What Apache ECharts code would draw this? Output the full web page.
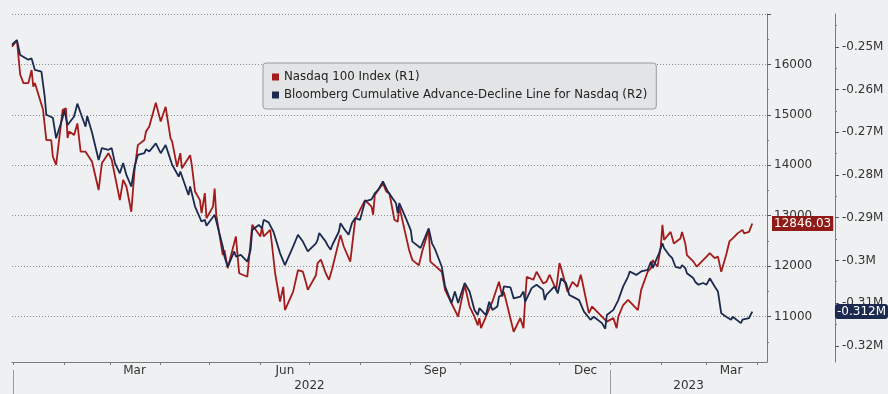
<!DOCTYPE html>
<html>
<head>
<meta charset="utf-8">
<script src="https://cdn.jsdelivr.net/npm/echarts@6/dist/echarts.min.js"></script>
<style>
  html, body { margin: 0; padding: 0; background: #eff0f1; }
  #main { width: 888px; height: 394px; }
</style>
</head>
<body>
<div id="main"></div>
<script>
// ---------- 数据 ----------
// Nasdaq 100 Index (R1)
var ndxDates = ['2021-12-31','2022-01-03','2022-01-05','2022-01-07','2022-01-10','2022-01-12','2022-01-13','2022-01-14','2022-01-19','2022-01-21',
  '2022-01-24','2022-01-25','2022-01-27','2022-01-31','2022-02-02','2022-02-03','2022-02-04','2022-02-07','2022-02-09','2022-02-11',
  '2022-02-14','2022-02-18','2022-02-22','2022-02-24','2022-02-28','2022-03-02','2022-03-07','2022-03-09','2022-03-11','2022-03-14',
  '2022-03-16','2022-03-18','2022-03-22','2022-03-23','2022-03-25','2022-03-29','2022-04-01','2022-04-04','2022-04-07','2022-04-08',
  '2022-04-11','2022-04-13','2022-04-14','2022-04-19','2022-04-20','2022-04-22','2022-04-25','2022-04-26','2022-04-28','2022-04-29',
  '2022-05-03','2022-05-04','2022-05-05','2022-05-09','2022-05-10','2022-05-12','2022-05-17','2022-05-19','2022-05-20','2022-05-24',
  '2022-05-27','2022-06-01','2022-06-02','2022-06-03','2022-06-07','2022-06-08','2022-06-10','2022-06-13','2022-06-15','2022-06-16',
  '2022-06-21','2022-06-24','2022-06-27','2022-06-29','2022-06-30','2022-07-05','2022-07-06','2022-07-08','2022-07-11','2022-07-13',
  '2022-07-15','2022-07-20','2022-07-22','2022-07-26','2022-07-29','2022-08-04','2022-08-08','2022-08-09','2022-08-10','2022-08-15',
  '2022-08-17','2022-08-19','2022-08-22','2022-08-24','2022-08-25','2022-08-31','2022-09-02','2022-09-06','2022-09-08','2022-09-12',
  '2022-09-13','2022-09-20','2022-09-22','2022-09-26','2022-09-30','2022-10-04','2022-10-07','2022-10-10','2022-10-12','2022-10-13',
  '2022-10-14','2022-10-21','2022-10-25','2022-10-27','2022-10-28','2022-11-03','2022-11-07','2022-11-09','2022-11-10','2022-11-11',
  '2022-11-15','2022-11-17','2022-11-21','2022-11-23','2022-11-25','2022-11-29','2022-12-01','2022-12-02','2022-12-06','2022-12-09',
  '2022-12-12','2022-12-14','2022-12-15','2022-12-19','2022-12-21','2022-12-27','2022-12-30','2023-01-03','2023-01-05','2023-01-06',
  '2023-01-09','2023-01-12','2023-01-13','2023-01-18','2023-01-20','2023-01-24','2023-01-26','2023-01-27','2023-01-30','2023-02-01',
  '2023-02-02','2023-02-03','2023-02-07','2023-02-09','2023-02-13','2023-02-14','2023-02-16','2023-02-17','2023-02-21','2023-02-23',
  '2023-02-24','2023-03-01','2023-03-03','2023-03-06','2023-03-08','2023-03-10','2023-03-13','2023-03-15','2023-03-17','2023-03-20',
  '2023-03-21','2023-03-23','2023-03-24','2023-03-27','2023-03-29'];
var ndxValues = [16350,16480,15800,15630,15630,15890,15560,15630,15100,14500,
  14500,14170,14010,15100,15130,14540,14670,14600,14830,14270,
  14270,14070,13510,14040,14240,14110,13310,13710,13580,13080,
  13910,14400,14500,14670,14770,15240,14870,15160,14540,14470,
  13970,14240,13940,14200,14010,13480,13310,13050,13450,12950,
  13180,13540,13010,12220,12320,11960,12590,11860,11860,11790,
  12820,12590,12780,12590,12720,12450,11860,11300,11590,11130,
  11490,11920,11890,11660,11530,11820,12060,12130,11860,11730,
  11960,12620,12390,12090,12920,13310,13180,13020,13410,13640,
  13480,13440,12920,12880,13180,12320,12120,12020,12290,12720,
  12090,11890,11530,11260,11000,11630,11200,11000,10830,10970,
  10770,11300,11690,11400,11490,10700,10970,10770,11330,11790,
  11730,11890,11660,11690,11830,11530,12060,11960,11490,11690,
  11590,11830,11690,11070,11200,11000,10900,10970,10770,11000,
  11230,11330,11360,11130,11530,11890,11960,12120,11990,12390,
  12820,12520,12680,12450,12550,12680,12450,12220,12090,11990,
  11960,12190,12260,12160,12190,11890,12220,12490,12550,12650,
  12680,12720,12650,12680,12846.03];

// Bloomberg Cumulative Advance-Decline Line for Nasdaq (R2)
var adDates = ['2021-12-31','2022-01-03','2022-01-05','2022-01-10','2022-01-12','2022-01-14','2022-01-18','2022-01-20','2022-01-21','2022-01-25',
  '2022-01-27','2022-01-31','2022-02-01','2022-02-03','2022-02-07','2022-02-09','2022-02-11','2022-02-14','2022-02-15','2022-02-16',
  '2022-02-18','2022-02-22','2022-02-24','2022-02-28','2022-03-02','2022-03-04','2022-03-07','2022-03-09','2022-03-11','2022-03-14',
  '2022-03-16','2022-03-18','2022-03-22','2022-03-23','2022-03-25','2022-03-29','2022-04-01','2022-04-04','2022-04-06','2022-04-08',
  '2022-04-12','2022-04-13','2022-04-18','2022-04-19','2022-04-22','2022-04-26','2022-04-28','2022-04-29','2022-05-04','2022-05-09',
  '2022-05-10','2022-05-12','2022-05-13','2022-05-16','2022-05-17','2022-05-18','2022-05-20','2022-05-24','2022-05-26','2022-05-27',
  '2022-05-31','2022-06-02','2022-06-03','2022-06-06','2022-06-09','2022-06-13','2022-06-14','2022-06-16','2022-06-21','2022-06-22',
  '2022-06-24','2022-06-27','2022-06-30','2022-07-05','2022-07-06','2022-07-07','2022-07-11','2022-07-12','2022-07-14','2022-07-15',
  '2022-07-19','2022-07-20','2022-07-22','2022-07-25','2022-07-27','2022-07-29','2022-08-01','2022-08-04','2022-08-08','2022-08-10',
  '2022-08-12','2022-08-15','2022-08-16','2022-08-18','2022-08-19','2022-08-23','2022-08-24','2022-08-25','2022-08-29','2022-09-01',
  '2022-09-02','2022-09-07','2022-09-12','2022-09-14','2022-09-16','2022-09-20','2022-09-22','2022-09-26','2022-09-28','2022-09-30',
  '2022-10-04','2022-10-07','2022-10-10','2022-10-12','2022-10-13','2022-10-17','2022-10-19','2022-10-21','2022-10-24','2022-10-25',
  '2022-10-27','2022-10-28','2022-11-01','2022-11-03','2022-11-07','2022-11-09','2022-11-10','2022-11-14','2022-11-17','2022-11-21',
  '2022-11-22','2022-11-23','2022-11-28','2022-11-30','2022-12-02','2022-12-05','2022-12-07','2022-12-09','2022-12-13','2022-12-16',
  '2022-12-20','2022-12-22','2022-12-27','2022-12-29','2022-12-30','2023-01-03','2023-01-06','2023-01-09','2023-01-12','2023-01-13',
  '2023-01-17','2023-01-20','2023-01-24','2023-01-26','2023-01-27','2023-01-31','2023-02-02','2023-02-03','2023-02-06','2023-02-08',
  '2023-02-10','2023-02-13','2023-02-14','2023-02-16','2023-02-17','2023-02-21','2023-02-22','2023-02-24','2023-02-27','2023-03-01',
  '2023-03-03','2023-03-06','2023-03-08','2023-03-10','2023-03-13','2023-03-14','2023-03-16','2023-03-17','2023-03-22','2023-03-23',
  '2023-03-27','2023-03-29'];
var adValues = [-249500,-248400,-251900,-253000,-252700,-255400,-255800,-261600,-265900,-266600,
  -271400,-266600,-264800,-268300,-266300,-263300,-265500,-268700,-266200,-266300,
  -270100,-276500,-273700,-274100,-273700,-277200,-279600,-277200,-280000,-282700,
  -278000,-275300,-274900,-274000,-274500,-272600,-274900,-273000,-275300,-277600,
  -280400,-279200,-284700,-282700,-287400,-290900,-290500,-291900,-289300,-296800,
  -299100,-301500,-301500,-297900,-299100,-298700,-298700,-300300,-297500,-292900,
  -291700,-292500,-290500,-291100,-293300,-298300,-298700,-301100,-296800,-296400,
  -294000,-295600,-297900,-296000,-295200,-293600,-295600,-296400,-297500,-296400,
  -293300,-291300,-292500,-294000,-291300,-290100,-290500,-286200,-285700,-284300,
  -283500,-281500,-282300,-283900,-283500,-286600,-288900,-286600,-290100,-292900,
  -295600,-297100,-292500,-296000,-297500,-301500,-306100,-310000,-307300,-310000,
  -305300,-307300,-311600,-312800,-311200,-312800,-309700,-311600,-310800,-308500,
  -308100,-306100,-306300,-308900,-308500,-307300,-309700,-306500,-305700,-306900,
  -309300,-308100,-306100,-307700,-304200,-305300,-308100,-308500,-309300,-312000,
  -313900,-313200,-314700,-316000,-312800,-311600,-309300,-306100,-303800,-302600,
  -303400,-302600,-302200,-300300,-301800,-298300,-296000,-297100,-298700,-299500,
  -301500,-301800,-301100,-301800,-303000,-304200,-305000,-305700,-305300,-305700,
  -304200,-306100,-307300,-312400,-313200,-312800,-313900,-313200,-314700,-313900,
  -313500,-312000];

// 坐标轴刻度
var monthTicks = ['2022-01-01','2022-02-01','2022-03-01','2022-04-01','2022-05-01','2022-06-01','2022-07-01','2022-08-01',
  '2022-09-01','2022-10-01','2022-11-01','2022-12-01','2023-01-01','2023-02-01','2023-03-01','2023-04-01'];
var monthLabelDates = ['2022-03-16','2022-06-16','2022-09-16','2022-12-17','2023-03-16'];
var monthLabelText = ['Mar','Jun','Sep','Dec','Mar'];
var yearBreaks = ['2022-01-01','2023-01-01'];
var yearLabelDates = ['2022-07-01','2023-02-18'];
var yearLabelText = ['2022','2023'];
var r1Ticks = [11000,12000,13000,14000,15000,16000,17000];
var r1Labels = [11000,12000,13000,14000,15000,16000];
var r1Minor = [10500,11500,12500,13500,14500,15500,16500];
var r2Labels = [-250000,-260000,-270000,-280000,-290000,-300000,-310000,-320000];
var r2Minor = [-245000,-255000,-265000,-275000,-285000,-295000,-305000,-315000];
var ndxLast = 12846.03;
var adLast = -312000;

// ---------- 图表 ----------
// 日期 -> 时间戳（x 轴用 value 轴承载时间戳）
function ts(s) { var p = s.split('-'); return Date.UTC(+p[0], +p[1] - 1, +p[2]); }
function pairs(dates, values) {
  var out = [];
  for (var i = 0; i < dates.length; i++) out.push([ts(dates[i]), values[i]]);
  return out;
}
function lookup(dates, texts) {
  var m = {};
  for (var i = 0; i < dates.length; i++) m[ts(dates[i])] = texts[i];
  return function (v) { return m[v] || ''; };
}
function millions(v) { return parseFloat((v / 1e6).toFixed(3)) + 'M'; }

var font = 'DejaVu Sans';
var textColor = '#333';
var axisColor = '#7a7a7a';
var redColor = '#a31b1b';
var navyColor = '#1b2a4e';
var xMin = ts('2021-12-31');
var xMax = ts('2023-04-07');

var chart = echarts.init(document.getElementById('main'), null, { renderer: 'canvas' });

var option = {
  backgroundColor: '#eff0f1',
  animation: false,
  textStyle: { fontFamily: font },
  grid: { left: 12, right: 121, top: 14, bottom: 32 },
  legend: {
    left: 263,
    top: 63,
    orient: 'vertical',
    icon: 'rect',
    itemWidth: 7,
    itemHeight: 7,
    itemGap: 6,
    padding: [8, 9, 8, 9],
    backgroundColor: '#e3e4e5',
    borderColor: '#9a9a9a',
    borderWidth: 1,
    borderRadius: 3,
    textStyle: { fontFamily: font, fontSize: 11.8, color: '#222' },
    data: ['Nasdaq 100 Index (R1)', 'Bloomberg Cumulative Advance-Decline Line for Nasdaq (R2)']
  },
  xAxis: [{
    type: 'value',
    min: xMin,
    max: xMax,
    axisLine: { show: true, lineStyle: { color: axisColor, width: 1 } },
    axisTick: { show: true, length: 3, customValues: monthTicks.map(ts), lineStyle: { color: axisColor } },
    axisLabel: {
      customValues: monthLabelDates.map(ts),
      formatter: lookup(monthLabelDates, monthLabelText),
      margin: 3,
      fontSize: 12,
      color: textColor,
      fontFamily: font
    },
    splitLine: { show: false }
  }, {
    // 年份行
    type: 'value',
    position: 'bottom',
    offset: 8,
    min: xMin,
    max: xMax,
    axisLine: { show: false },
    axisTick: { show: true, length: 24, customValues: yearBreaks.map(ts), lineStyle: { color: '#9a9a9a' } },
    axisLabel: {
      customValues: yearLabelDates.map(ts),
      formatter: lookup(yearLabelDates, yearLabelText),
      margin: 10,
      fontSize: 12,
      color: textColor,
      fontFamily: font
    },
    splitLine: { show: false }
  }],
  yAxis: [{
    // R1
    type: 'value',
    position: 'right',
    min: 10100,
    max: 17000,
    axisLine: { show: true, lineStyle: { color: axisColor, width: 1 } },
    axisTick: { show: true, length: 4, customValues: r1Ticks, lineStyle: { color: '#555' } },
    axisLabel: {
      customValues: r1Labels,
      margin: 7,
      fontSize: 12,
      color: textColor,
      fontFamily: font,
      formatter: function (v) { return String(v); }
    },
    splitLine: { show: true, lineStyle: { color: '#8c8c8c', type: [1, 2], width: 1 } },
    axisPointer: {
      show: true,
      type: 'line',
      value: ndxLast,
      status: 'show',
      snap: false,
      triggerTooltip: false,
      lineStyle: { opacity: 0 },
      label: {
        show: true,
        margin: 5,
        padding: [2, 2, 1, 2],
        backgroundColor: '#8e1b17',
        color: '#fff',
        fontSize: 12,
        fontFamily: font,
        borderRadius: 0,
        formatter: function (p) { return Number(p.value).toFixed(2); }
      }
    }
  }, {
    // R2
    type: 'value',
    position: 'right',
    offset: 68,
    min: -323800,
    max: -242300,
    axisLine: { show: true, lineStyle: { color: axisColor, width: 1 } },
    axisTick: { show: true, length: 4, customValues: r2Labels, lineStyle: { color: '#555' } },
    axisLabel: {
      customValues: r2Labels,
      margin: 7,
      fontSize: 12,
      color: textColor,
      fontFamily: font,
      formatter: millions
    },
    splitLine: { show: false },
    axisPointer: {
      show: true,
      type: 'line',
      value: adLast,
      status: 'show',
      snap: false,
      triggerTooltip: false,
      lineStyle: { opacity: 0 },
      label: {
        show: true,
        margin: 5,
        padding: [2, 2, 1, 2],
        backgroundColor: navyColor,
        color: '#fff',
        fontSize: 12,
        fontFamily: font,
        formatter: function (p) { return millions(p.value); }
      }
    }
  }, {
    // R1 小刻度
    type: 'value',
    position: 'right',
    min: 10100,
    max: 17000,
    axisLine: { show: false },
    axisTick: { show: true, length: 2, customValues: r1Minor, lineStyle: { color: '#777' } },
    axisLabel: { show: false },
    splitLine: { show: false }
  }, {
    // R2 小刻度
    type: 'value',
    position: 'right',
    offset: 68,
    min: -323800,
    max: -242300,
    axisLine: { show: false },
    axisTick: { show: true, length: 2, customValues: r2Minor, lineStyle: { color: '#777' } },
    axisLabel: { show: false },
    splitLine: { show: false }
  }],
  series: [{
    name: 'Nasdaq 100 Index (R1)',
    type: 'line',
    yAxisIndex: 0,
    showSymbol: false,
    color: redColor,
    lineStyle: { width: 1.8, color: redColor },
    data: pairs(ndxDates, ndxValues)
  }, {
    name: 'Bloomberg Cumulative Advance-Decline Line for Nasdaq (R2)',
    type: 'line',
    yAxisIndex: 1,
    showSymbol: false,
    color: navyColor,
    lineStyle: { width: 1.8, color: navyColor },
    data: pairs(adDates, adValues)
  }]
};

chart.setOption(option);
</script>
</body>
</html>
